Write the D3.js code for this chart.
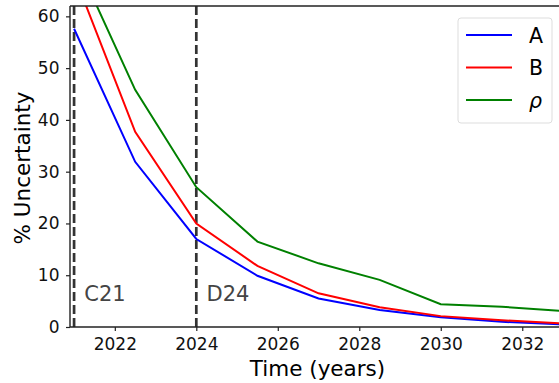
<!DOCTYPE html>
<html>
<head>
<meta charset="utf-8">
<script src="https://cdn.jsdelivr.net/npm/d3@7"></script>
<style>
  body { margin: 0; background: #fff; }
  svg { font-family: "DejaVu Sans", sans-serif; }
</style>
</head>
<body>
<script>
// data
const years = [2021, 2022.5, 2024, 2025.5, 2027, 2028.5, 2030, 2031.5, 2033]
const seriesA = [57.6, 31.9, 17.0, 9.9, 5.5, 3.3, 1.9, 1.0, 0.5]
const seriesB = [68.0, 37.7, 20.0, 11.8, 6.5, 3.8, 2.1, 1.3, 0.7]
const seriesRho = [71.6, 45.8, 27.0, 16.5, 12.3, 9.1, 4.4, 3.9, 3.1]
const seriesNames = ['A', 'B', 'ρ']
const seriesColors = ['blue', 'red', 'green']
const xTicks = [2022, 2024, 2026, 2028, 2030, 2032]
const yTicks = [0, 10, 20, 30, 40, 50, 60]
const markers = [2021, 2024]
const markerLabels = ['C21', 'D24']

const w = 559
const h = 383
const margin = { top: 6, bottom: 56, left: 70, right: -4 }

const svg = d3.select('body')
  .append('svg')
  .attr('width', w)
  .attr('height', h)

const xScale = d3.scaleLinear()
  .domain([2020.9, 2033])
  .range([margin.left, w - margin.right])

const yScale = d3.scaleLinear()
  .domain([0, 62])
  .range([h - margin.bottom, margin.top])

svg.append('clipPath')
  .attr('id', 'plotClip')
  .append('rect')
  .attr('x', margin.left)
  .attr('y', margin.top)
  .attr('width', w - margin.right - margin.left)
  .attr('height', h - margin.bottom - margin.top)

const plot = svg.append('g').attr('clip-path', 'url(#plotClip)')

// vertical dashed markers
markers.forEach((m, i) => {
  plot.append('line')
    .attr('x1', xScale(m))
    .attr('x2', xScale(m))
    .attr('y1', yScale(0))
    .attr('y2', yScale(62))
    .style('stroke', '#333')
    .style('stroke-width', 2.7)
    .style('stroke-dasharray', '9,4')

  svg.append('text')
    .attr('x', xScale(m + 0.25))
    .attr('y', yScale(5.0))
    .style('font-size', '21px')
    .style('fill', '#444')
    .text(markerLabels[i])
})

// series lines
const allSeries = [seriesA, seriesB, seriesRho]
const line = d3.line()
  .x((d, i) => xScale(years[i]))
  .y(d => yScale(d))

allSeries.forEach((s, i) => {
  plot.append('path')
    .datum(s)
    .attr('d', line)
    .style('fill', 'none')
    .style('stroke', seriesColors[i])
    .style('stroke-width', 2)
})

// axes
const xAxis = d3.axisBottom(xScale)
  .tickValues(xTicks)
  .tickFormat(d3.format('d'))
  .tickSize(4)

const xG = svg.append('g')
  .attr('transform', `translate(0,${yScale(0)})`)
  .call(xAxis)

const yAxis = d3.axisLeft(yScale)
  .tickValues(yTicks)
  .tickSize(4)

const yG = svg.append('g')
  .attr('transform', `translate(${margin.left},0)`)
  .call(yAxis)

;[xG, yG].forEach(g => {
  g.select('.domain').remove()
  g.selectAll('.tick line').style('stroke', '#222').style('stroke-width', 1.2)
  g.selectAll('.tick text')
    .style('font-size', '17px')
    .style('font-family', '"DejaVu Sans", sans-serif')
    .style('fill', '#111')
})
xG.selectAll('.tick text').attr('y', 11)
yG.selectAll('.tick text').attr('x', -10.5)

// spines
const spine = (x1, y1, x2, y2) => svg.append('line')
  .attr('x1', x1).attr('y1', y1).attr('x2', x2).attr('y2', y2)
  .style('stroke', '#222')
  .style('stroke-width', 1.4)

spine(margin.left, margin.top, margin.left, yScale(0))
spine(margin.left, yScale(0), w, yScale(0))
spine(margin.left, margin.top, w, margin.top)

// axis titles
svg.append('text')
  .attr('x', 317.5)
  .attr('y', 376)
  .attr('text-anchor', 'middle')
  .style('font-size', '21.5px')
  .text('Time (years)')

svg.append('text')
  .attr('transform', `translate(30,168) rotate(-90)`)
  .attr('text-anchor', 'middle')
  .style('font-size', '21.5px')
  .text('% Uncertainty')

// legend
const legend = svg.append('g').attr('transform', 'translate(458,18)')
legend.append('rect')
  .attr('width', 94)
  .attr('height', 105)
  .attr('rx', 3)
  .style('fill', 'white')
  .style('fill-opacity', 0.8)
  .style('stroke', '#ddd')

seriesNames.forEach((n, i) => {
  const y = 17 + i * 32.5
  legend.append('line')
    .attr('x1', 8).attr('x2', 54)
    .attr('y1', y).attr('y2', y)
    .style('stroke', seriesColors[i])
    .style('stroke-width', 2)
  legend.append('text')
    .attr('x', 71)
    .attr('y', y + 7.5)
    .style('font-size', '20.5px')
    .style('font-style', n === 'ρ' ? 'italic' : 'normal')
    .text(n)
})
</script>
</body>
</html>
